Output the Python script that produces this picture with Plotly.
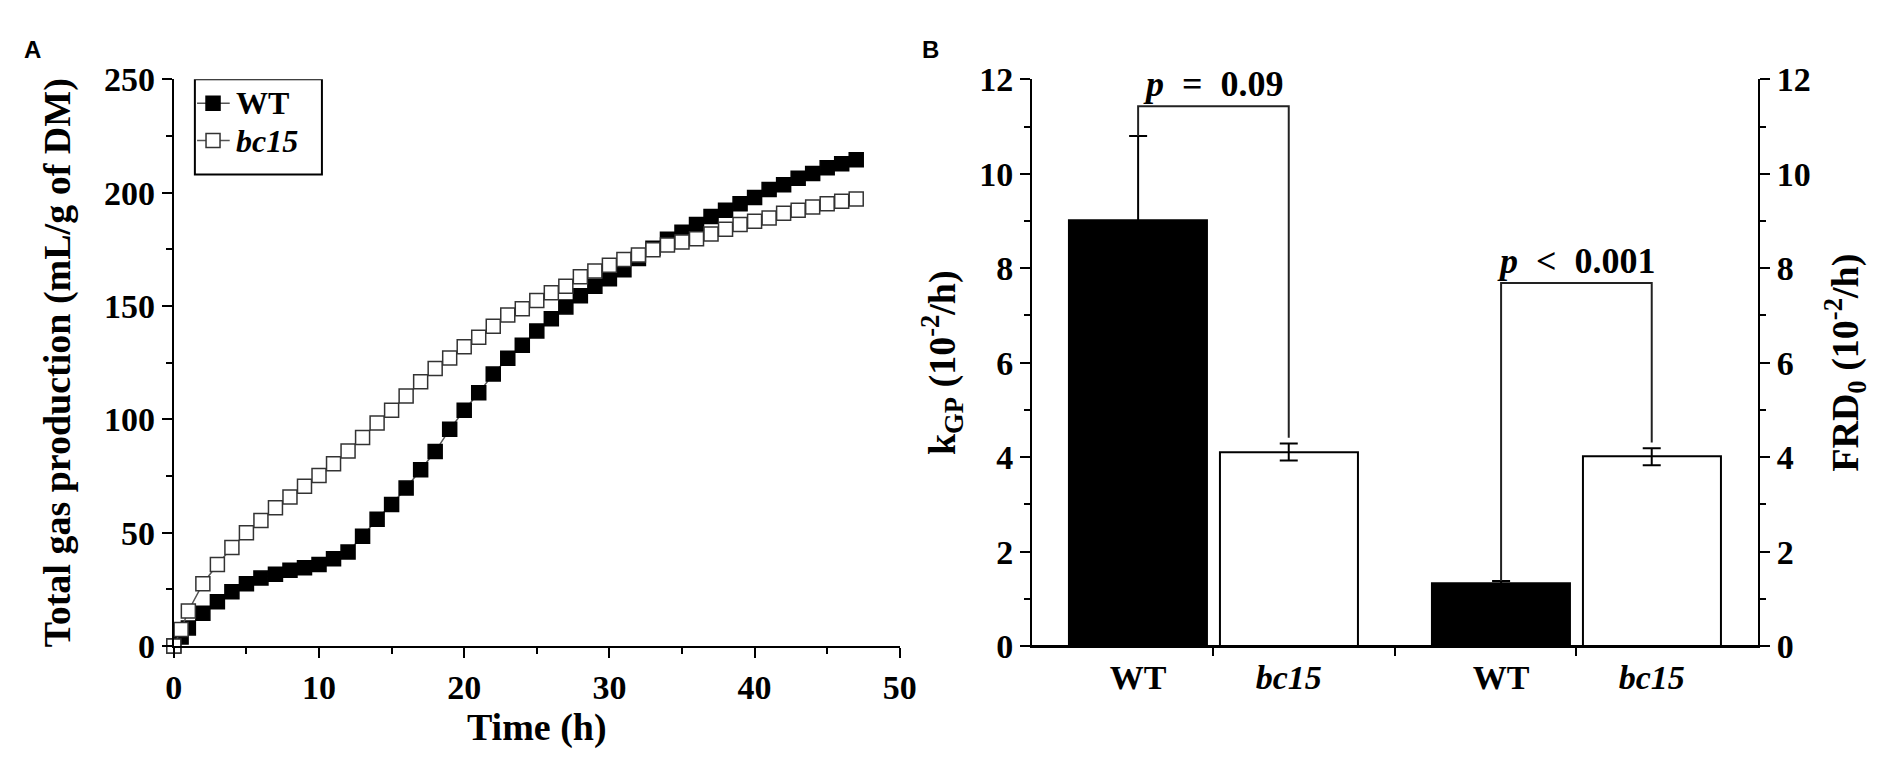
import plotly.graph_objects as go

# panel A: cumulative gas production
time_h = [0, 0.5, 1, 2, 3, 4, 5, 6, 7, 8, 9, 10, 11, 12, 13, 14, 15, 16, 17, 18, 19,
          20, 21, 22, 23, 24, 25, 26, 27, 28, 29, 30, 31, 32, 33, 34, 35, 36, 37, 38,
          39, 40, 41, 42, 43, 44, 45, 46, 47]
gas_wt = [0, 4, 8, 14.5, 19.5, 24, 27.5, 30, 31.7, 33.4, 34.5, 36, 38.5, 41.5, 48.5,
          56, 62.5, 69.7, 77.8, 85.8, 95.6, 104, 111.7, 120, 127, 132.7, 139, 144.4,
          149.6, 154.5, 158.7, 162, 166, 171, 175.5, 179.5, 182.5, 186, 189.5, 192.3,
          195.1, 197.9, 201.4, 203.5, 206.4, 208.5, 211, 212.8, 214.5]
gas_bc15 = [0, 7.3, 15.5, 27.5, 36, 43.5, 50, 55.4, 61, 65.8, 70.5, 75.3, 80.4, 86, 92,
            98.4, 104, 110.3, 116.6, 122.5, 127.1, 132, 136.2, 141.1, 146, 148.8, 152.4,
            155.9, 158.7, 162.9, 165.5, 168, 170.5, 172.5, 174.8, 176.9, 178.3, 179.7,
            181.8, 183.9, 186, 187.4, 188.8, 190.9, 192.3, 193.7, 195.1, 196.2, 197.2]
series_names = ["WT", "<i>bc15</i>"]

# panel B: rate parameters (bar positions: WT, bc15 | WT, bc15)
bar_x = [0.585, 1.415, 2.585, 3.415]
bar_labels = ["WT", "<i>bc15</i>", "WT", "<i>bc15</i>"]
kgp_mean = [9.02, 4.11]
kgp_err = [1.78, 0.18]
frd_mean = [1.32, 4.01]
frd_err = [0.06, 0.18]
bracket_top = [11.43, 7.69]
nb = "\u00a0"
p_text = ["<i>p</i>" + nb * 2 + "=" + nb * 2 + "0.09",
          "<i>p</i>" + nb * 2 + "<" + nb * 2 + "0.001"]

W, H = 1904, 779
FONT = "Liberation Serif"
tickfont = dict(family=FONT, size=34, color="black", weight="bold")
titlefont = dict(family=FONT, size=38, color="black", weight="bold")

dom_y = [1 - 651 / H, 1 - 56 / H]
dom_a = [159 / W, 895 / W]
dom_b = [1029 / W, 1765 / W]

fill = ["black", "white"]
edge = ["black", "#333333"]

fig = go.Figure()

for ys, name, fc, ec in zip([gas_wt, gas_bc15], series_names, fill, edge):
    fig.add_trace(go.Scatter(x=time_h, y=ys, name=name, mode="lines+markers",
                             line=dict(color="#555555", width=1.5),
                             marker=dict(symbol="square", size=14, color=fc,
                                         line=dict(color=ec, width=1.5)),
                             cliponaxis=False, showlegend=False))

bar_line = dict(color="black", width=2)
fig.add_trace(go.Bar(x=bar_x[:2], y=kgp_mean, width=0.76, xaxis="x2", yaxis="y2",
                     marker=dict(color=fill, line=bar_line),
                     error_y=dict(type="data", array=kgp_err, color="black",
                                  thickness=2, width=9),
                     showlegend=False))
fig.add_trace(go.Bar(x=bar_x[2:], y=frd_mean, width=0.76, xaxis="x2", yaxis="y3",
                     marker=dict(color=fill, line=bar_line),
                     error_y=dict(type="data", array=frd_err, color="black",
                                  thickness=2, width=9),
                     showlegend=False))

# significance brackets
for i, (mean, err, yax) in enumerate([(kgp_mean, kgp_err, "y2"), (frd_mean, frd_err, "y3")]):
    xl, xr = bar_x[2 * i], bar_x[2 * i + 1]
    fig.add_trace(go.Scatter(x=[xl, xl, xr, xr],
                             y=[mean[0] + err[0], bracket_top[i], bracket_top[i],
                                mean[1] + err[1] + 0.12],
                             mode="lines", line=dict(color="#222222", width=2),
                             xaxis="x2", yaxis=yax, showlegend=False, hoverinfo="skip"))
    fig.add_annotation(x=(xl + xr) / 2, y=bracket_top[i], xref="x2", yref=yax,
                       text=p_text[i], showarrow=False, yanchor="bottom", yshift=0,
                       font=dict(family=FONT, size=36, color="black", weight="bold"))

# compact legend box drawn in panel A (plotly's legend rows are too tall)
fig.add_shape(type="rect", xref="x", yref="y", x0=1.45, x1=10.2, y0=208, y1=250,
              line=dict(color="black", width=2), fillcolor="white", layer="above")
for k, (name, fc, ec) in enumerate(zip(series_names, fill, edge)):
    yk = 239.5 - 16.5 * k
    fig.add_shape(type="line", xref="x", yref="y", x0=1.6, x1=3.85, y0=yk, y1=yk,
                  line=dict(color="#555555", width=1.5), layer="above")
    fig.add_shape(type="rect", xref="x", yref="y", xsizemode="pixel", ysizemode="pixel",
                  xanchor=2.7, yanchor=yk, x0=-7, x1=7, y0=-7, y1=7,
                  fillcolor=fc, line=dict(color=ec, width=1.5), layer="above")
    fig.add_annotation(x=4.15, y=yk, xref="x", yref="y", text=name, showarrow=False,
                       xanchor="left", yanchor="middle",
                       font=dict(family=FONT, size=32, color="black", weight="bold"))

axis_common = dict(showline=True, linecolor="black", linewidth=2, ticks="outside",
                   tickwidth=2, tickcolor="black", ticklen=10, showgrid=False,
                   zeroline=False, tickfont=tickfont, mirror=False)

fig.update_layout(
    width=W, height=H, margin=dict(l=0, r=0, t=0, b=0),
    plot_bgcolor="white", paper_bgcolor="white", showlegend=False,
    xaxis=dict(domain=dom_a, range=[0, 50], dtick=10, anchor="y",
               minor=dict(dtick=5, ticks="outside", ticklen=6, tickwidth=2, tickcolor="black"),
               title=dict(text="Time (h)", font=titlefont, standoff=8), **axis_common),
    yaxis=dict(domain=dom_y, range=[0, 250], dtick=50, anchor="x",
               minor=dict(dtick=25, ticks="outside", ticklen=6, tickwidth=2, tickcolor="black"),
               title=dict(text="Total gas production (mL/g of DM)", font=titlefont, standoff=22),
               **axis_common),
    xaxis2=dict(domain=dom_b, range=[0, 4], anchor="y2", tickvals=bar_x, ticktext=bar_labels,
                showline=True, linecolor="black", linewidth=2, ticks="outside", ticklen=0,
                tickfont=tickfont, showgrid=False, zeroline=False,
                minor=dict(tickvals=[1, 2, 3], ticks="outside", ticklen=8, tickwidth=2,
                           tickcolor="black")),
    yaxis2=dict(domain=dom_y, range=[0, 12], dtick=2, anchor="x2",
                minor=dict(dtick=1, ticks="outside", ticklen=6, tickwidth=2, tickcolor="black"),
                title=dict(text="k<sub>GP</sub> (10<sup>-2</sup>/h)", font=titlefont, standoff=12),
                **axis_common),
    yaxis3=dict(domain=dom_y, range=[0, 12], dtick=2, anchor="x2", overlaying="y2", side="right",
                minor=dict(dtick=1, ticks="outside", ticklen=6, tickwidth=2, tickcolor="black"),
                title=dict(text="FRD<sub>0</sub> (10<sup>-2</sup>/h)", font=titlefont, standoff=22),
                **axis_common),
    bargap=0,
)

# x axis of panel B runs slightly past both y axes
fig.add_shape(type="line", xref="paper", yref="paper", x0=1018 / W, x1=1777 / W,
              y0=dom_y[0], y1=dom_y[0], line=dict(color="black", width=2))

fig.add_annotation(x=5 / W, y=1 - 8 / H, xref="paper", yref="paper", text="A",
                   showarrow=False, xanchor="left", yanchor="top",
                   font=dict(family="Liberation Sans", size=24, color="black", weight="bold"))
fig.add_annotation(x=915 / W, y=1 - 8 / H, xref="paper", yref="paper", text="B",
                   showarrow=False, xanchor="left", yanchor="top",
                   font=dict(family="Liberation Sans", size=24, color="black", weight="bold"))

fig.write_html("out.html")
